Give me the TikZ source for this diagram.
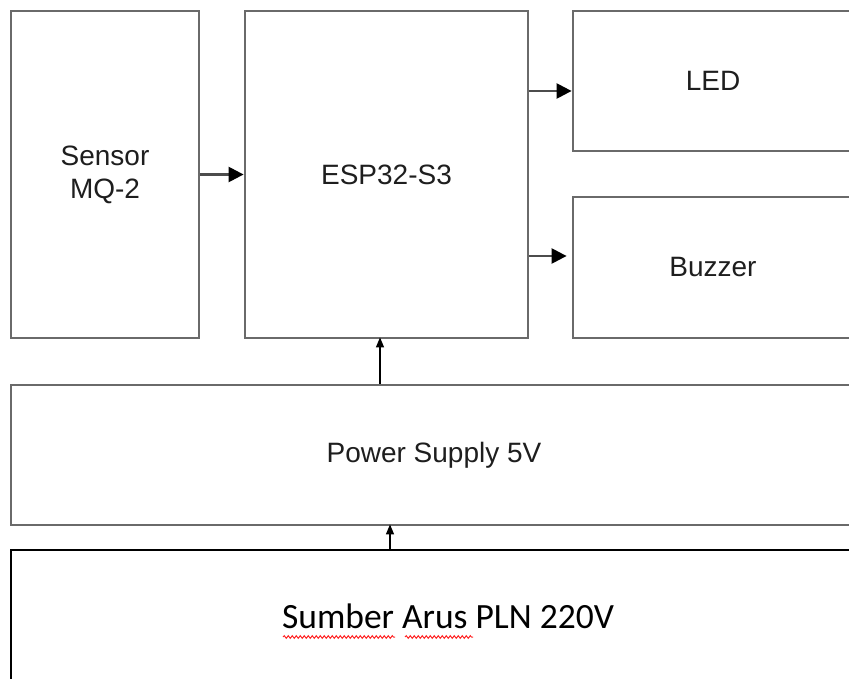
\documentclass[tikz,border=0pt]{standalone}
\usepackage{fontspec}
\setmainfont{Liberation Sans}
\newfontfamily\calfont{Carlito}
\usetikzlibrary{arrows.meta,decorations.pathmorphing}
\definecolor{boxgray}{HTML}{6A6A6A}
\definecolor{txtgray}{HTML}{1E1E1E}
\begin{document}
\begin{tikzpicture}[x=1pt,y=-1pt,
  blk/.style={draw=boxgray,line width=2.8pt,fill=white,inner sep=0pt,
    text=txtgray,font=\fontsize{28}{33}\selectfont,align=center},
  harr/.style={draw=black!70,line width=2.4pt,-{Triangle[length=15pt,width=15pt,color=black,fill=black]}},
  varr/.style={draw=black,line width=1.3pt,-{Triangle[length=10pt,width=8pt]}},
  squig/.style={draw=red!85!white,line width=1pt,decorate,
    decoration={snake,amplitude=1.3pt,segment length=4pt}}]
\useasboundingbox (0,0) rectangle (849,679);
\clip (0,0) rectangle (849,679);
\fill[white] (0,0) rectangle (849,679);
% blocks
\node[blk,minimum width=188pt,minimum height=327pt] (sensor) at (105,174.5) {Sensor\\MQ-2};
\node[blk,minimum width=283pt,minimum height=327pt] (esp) at (386.5,174.5) {ESP32-S3};
\node[blk,minimum width=280pt,minimum height=140pt] (led) at (713,81) {LED};
\node[blk,minimum width=280pt,minimum height=141pt] (buzzer) at (713,267.5) {Buzzer};
\node[blk,minimum width=846pt,minimum height=140pt] (power) at (434,455) {Power Supply 5V};
\node[draw=black,line width=1.4pt,fill=white,inner sep=0pt,minimum width=874pt,minimum height=150pt] (sumber) at (448,625) {};
\node[inner sep=0pt,font=\calfont\fontsize{35.5}{40}\selectfont,text=black] (sumbertxt) at (448,616) {Sumber Arus PLN 220V};
% spell-check squiggles
\draw[squig] (283,637) -- (395,637);
\draw[squig] (405,637) -- (473,637);
% connectors
\draw[harr] (sensor.east) -- (esp.west);
\draw[harr] (esp.east |- 0,91) -- (led.west |- 0,91);
\draw[harr] (esp.east |- 0,256) -- ([xshift=-5pt]buzzer.west |- 0,256);
\draw[varr] (power.north -| 380,0) -- ([yshift=2pt]esp.south -| 380,0);
\draw[varr] (sumber.north -| 390,0) -- ([yshift=2pt]power.south -| 390,0);
\end{tikzpicture}
\end{document}
